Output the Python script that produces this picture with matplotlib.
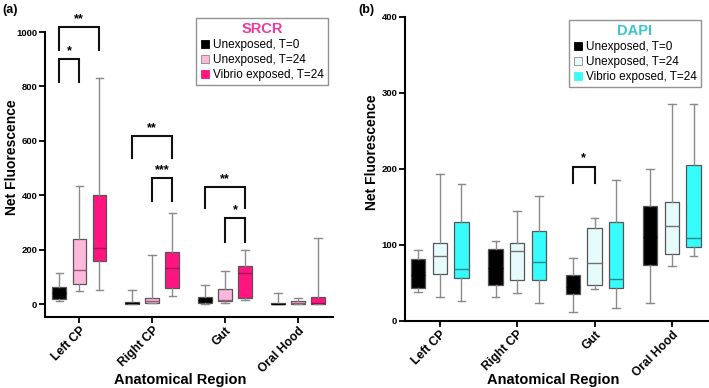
import matplotlib
matplotlib.use("Agg")
import matplotlib.pyplot as plt
from matplotlib.lines import Line2D

plt.rcParams['font.family'] = ['Liberation Sans', 'DejaVu Sans']

regions = ["Left CP", "Right CP", "Gut", "Oral Hood"]
series = ["Unexposed, T=0", "Unexposed, T=24", "Vibrio exposed, T=24"]

# Panel (a) SRCR: rows = series, cols = regions
srcr_lo  = [[13, 0, 1, 0], [50, 3, 5, 0], [53, 31, 15, 0]]
srcr_q1  = [[20, 2, 5, 0], [76, 6, 13, 1], [160, 60, 22, 0]]
srcr_med = [[40, 4, 15, 1], [125, 13, 16, 6], [207, 132, 114, 3]]
srcr_q3  = [[65, 7, 28, 3], [240, 22, 55, 11], [402, 193, 141, 26]]
srcr_hi  = [[113, 52, 71, 40], [434, 180, 121, 22], [831, 335, 198, 242]]

# Panel (b) DAPI
dapi_lo  = [[38, 32, 12, 24], [31, 37, 42, 73], [26, 24, 17, 85]]
dapi_q1  = [[44, 47, 35, 74], [62, 54, 48, 88], [56, 54, 44, 97]]
dapi_med = [[60, 70, 45, 110], [85, 92, 76, 125], [68, 78, 55, 109]]
dapi_q3  = [[81, 95, 60, 151], [103, 103, 122, 157], [130, 118, 130, 205]]
dapi_hi  = [[93, 105, 83, 200], [193, 145, 135, 286], [180, 165, 185, 286]]

srcr_colors = ["#000000", "#ffb8dc", "#ff1580"]
srcr_median_colors = ["#000000", "#9a5a7a", "#a0104f"]
dapi_colors = ["#000000", "#e6fcfc", "#38fbfb"]
dapi_median_colors = ["#000000", "#707070", "#208a8a"]

# brackets: (series_i, region_j, series_k, top, leg_bottom_i, leg_bottom_k, label)
srcr_brackets = [
    (0, 0, 1, 900, 815, 815, "*"),
    (0, 0, 2, 1018, 934, 934, "**"),
    (0, 1, 2, 618, 536, 536, "**"),
    (1, 1, 2, 463, 378, 378, "***"),
    (0, 2, 2, 430, 352, 352, "**"),
    (1, 2, 2, 316, 228, 228, "*"),
]
dapi_brackets = [
    (0, 2, 1, 203, 181, 181, "*"),
]

W = 709 / 100
H = 388 / 100
fig = plt.figure(figsize=(W, H), dpi=100)

def draw_panel(ax, lo, q1, med, q3, hi, colors, medcols, offset, width, brackets, ylim, yticks,
               title, title_color, legend_bbox, ylab_xy, xlab_xy):
    for i in range(3):
        stats = []
        for j in range(4):
            stats.append(dict(med=med[i][j], q1=q1[i][j], q3=q3[i][j],
                              whislo=lo[i][j], whishi=hi[i][j], fliers=[]))
        pos = [j + (i - 1) * offset for j in range(4)]
        ax.bxp(stats, positions=pos, widths=width, patch_artist=True, showfliers=False,
               boxprops=dict(facecolor=colors[i], edgecolor="#555555", linewidth=0.9),
               medianprops=dict(color=medcols[i], linewidth=1.0),
               whiskerprops=dict(color="#8a8a8a", linewidth=1.0),
               capprops=dict(color="#8a8a8a", linewidth=1.0),
               capwidths=width * 0.55, manage_ticks=False)
    for (a, j, b, top, la, lb, lab) in brackets:
        xa = j + (a - 1) * offset
        xb = j + (b - 1) * offset
        ax.plot([xa, xa, xb, xb], [la, top, top, lb], color="#111111", lw=1.5,
                clip_on=False, solid_joinstyle="miter")
        ax.text((xa + xb) / 2, top + (ylim[1] - ylim[0]) * 0.008, lab, ha="center", va="bottom",
                fontsize=9, fontweight="bold", clip_on=False)
    ax.set_ylim(*ylim)
    ax.set_yticks(yticks)
    ax.set_yticklabels([str(t) for t in yticks], fontsize=6.8, fontweight="bold")
    ax.set_xticks(range(4))
    ax.set_xticklabels(regions, rotation=45, ha="right", rotation_mode="anchor",
                       fontsize=8.7, fontweight="bold")
    ax.spines["top"].set_visible(False)
    ax.spines["right"].set_visible(False)
    for s in ("left", "bottom"):
        ax.spines[s].set_linewidth(1.5)
    ax.tick_params(axis="both", width=1.3, length=4, pad=1.5)
    ax.set_ylabel("Net Fluorescence", fontsize=10, fontweight="bold")
    ax.yaxis.label.set_va("center")
    ax.yaxis.set_label_coords(*ylab_xy)
    ax.set_xlabel("Anatomical Region", fontsize=10.5, fontweight="bold")
    ax.xaxis.label.set_va("center")
    ax.xaxis.set_label_coords(*xlab_xy)
    handles = [Line2D([], [], marker="s", linestyle="none", markersize=6,
                      markerfacecolor=colors[i],
                      markeredgecolor="#888888" if i == 1 else colors[i],
                      markeredgewidth=0.6) for i in range(3)]
    leg = ax.legend(handles, series, title=title, loc="upper left", bbox_to_anchor=legend_bbox,
                    bbox_transform=fig.transFigure, fontsize=8.5, handlelength=0.8,
                    handletextpad=0.3, borderpad=0.35, labelspacing=0.25, fancybox=False,
                    frameon=True, edgecolor="#777777", borderaxespad=0)
    leg.get_frame().set_linewidth(1.0)
    leg.get_title().set_color(title_color)
    leg.get_title().set_fontweight("bold")
    leg.get_title().set_fontsize(10.5)
    leg.set_zorder(5)

# panel (a)
ax1 = fig.add_axes([45 / 709, 1 - 317 / 388, 288 / 709, 285 / 388])
ax1.set_xlim(-0.47, 3.48)
draw_panel(ax1, srcr_lo, srcr_q1, srcr_med, srcr_q3, srcr_hi, srcr_colors, srcr_median_colors,
           0.275, 0.185, srcr_brackets, (-47, 1000), [0, 200, 400, 600, 800, 1000],
           "SRCR", "#f0389f", (196 / 709, 1 - 18 / 388),
           ((12 - 45) / 288, (317 - 157) / 285), ((180 - 45) / 288, (317 - 380) / 285))

# panel (b)
ax2 = fig.add_axes([405 / 709, 1 - 321 / 388, 304 / 709, 304 / 388])
ax2.set_xlim(-0.45, 3.48)
draw_panel(ax2, dapi_lo, dapi_q1, dapi_med, dapi_q3, dapi_hi, dapi_colors, dapi_median_colors,
           0.28, 0.185, dapi_brackets, (0, 400), [0, 100, 200, 300, 400],
           "DAPI", "#3cc6cc", (569 / 709, 1 - 20 / 388),
           ((372 - 405) / 304, (321 - 152) / 304), ((553 - 405) / 304, (321 - 380) / 304))

fig.text(2 / 709, 1 - 10 / 388, "(a)", fontsize=9, fontweight="bold", ha="left", va="center")
fig.text(358 / 709, 1 - 10 / 388, "(b)", fontsize=9, fontweight="bold", ha="left", va="center")

fig.savefig("out.png", dpi=100)
